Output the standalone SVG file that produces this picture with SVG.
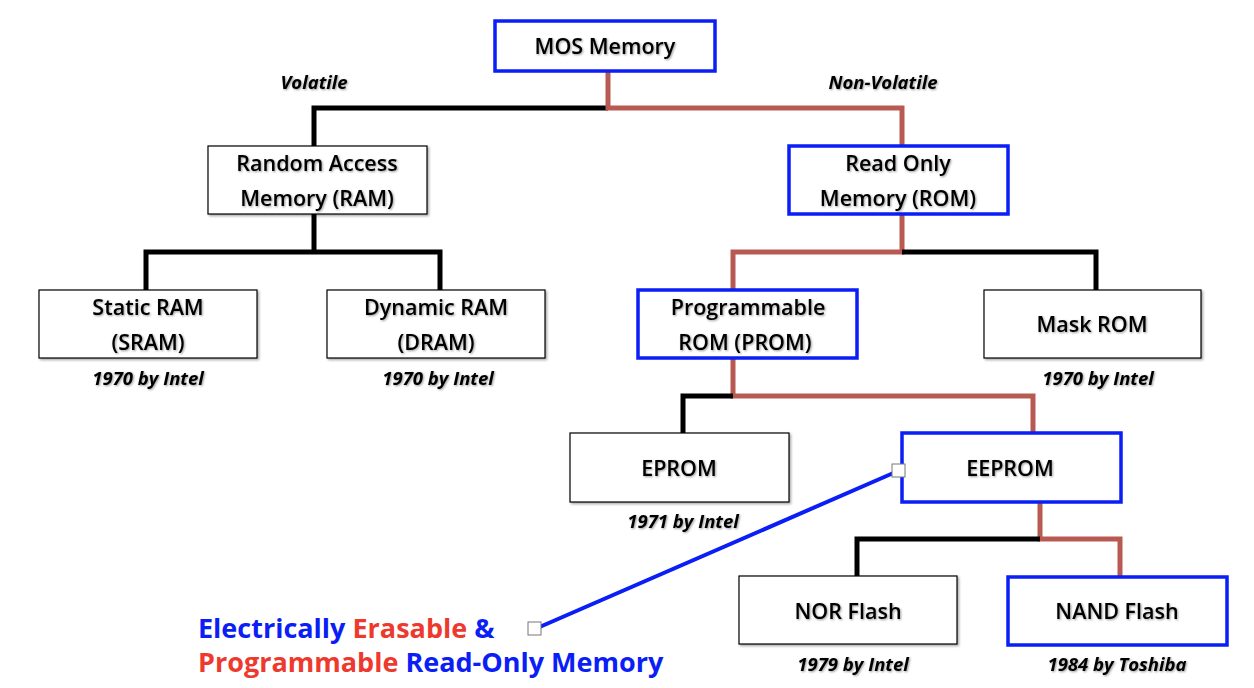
<svg xmlns="http://www.w3.org/2000/svg" width="1254" height="688" viewBox="0 0 1254 688">
<defs>
<filter id="ts" x="-10%" y="-20%" width="130%" height="160%">
<feDropShadow dx="1" dy="1" stdDeviation="0.8" flood-color="#000" flood-opacity="0.4"/>
</filter>
<filter id="bs" x="-5%" y="-5%" width="115%" height="120%">
<feDropShadow dx="1.5" dy="1.5" stdDeviation="1" flood-color="#000" flood-opacity="0.35"/>
</filter>
</defs>
<style>
.nb{fill:#fff;stroke:#000;stroke-width:1.2}
.bb{fill:#fff;stroke:#0A1EF5;stroke-width:3.5}
.t{font-family:"Open Sans","Noto Sans","Liberation Sans",sans-serif;font-weight:600;font-size:21.5px;fill:#000;text-anchor:middle}
.i{font-family:"Open Sans","Noto Sans","Liberation Sans",sans-serif;font-weight:700;font-style:italic;font-size:18.5px;fill:#000;text-anchor:middle}
.k{fill:none;stroke:#000;stroke-width:5}
.r{fill:none;stroke:#B85A52;stroke-width:5}
.c{font-family:"Open Sans","Noto Sans","Liberation Sans",sans-serif;font-weight:700;font-size:27px}
.blue{fill:#0A1EF5}
.red{fill:#EE3A2E}
.h{fill:#fff;stroke:#777;stroke-width:1}
</style>
<rect width="1254" height="688" fill="#fff"/>
<g id="connectors">
<polyline class="k" points="314,146 314,108 608,108"/>
<polyline class="r" points="608,72 608,108 902,108 902,146"/>
<polyline class="k" points="314,214 314,252"/>
<polyline class="k" points="146,290 146,252 440,252 440,290"/>
<polyline class="r" points="902,214 902,252 733,252 733,290"/>
<polyline class="k" points="902,252 1096,252 1096,290"/>
<polyline class="r" points="733,358 733,396 1033,396 1033,433"/>
<polyline class="k" points="733,396 683,396 683,433"/>
<polyline class="r" points="1040,502 1040,539 1120,539 1120,576"/>
<polyline class="k" points="1040,539 857,539 857,576"/>
<line x1="898" y1="471" x2="535" y2="629" stroke="#0A1EF5" stroke-width="4"/>
</g>
<g id="mos"><rect class="bb" x="495" y="21" width="220" height="50"/><text class="t" x="605" y="54" filter="url(#ts)">MOS Memory</text></g>
<text class="i" x="314" y="89" filter="url(#ts)">Volatile</text>
<text class="i" x="883" y="89" filter="url(#ts)">Non-Volatile</text>
<g id="ram"><rect class="nb" x="208" y="146" width="219" height="68" filter="url(#bs)"/><text class="t" x="317" y="171" filter="url(#ts)">Random Access</text><text class="t" x="317" y="206" filter="url(#ts)">Memory (RAM)</text></g>
<g id="rom"><rect class="bb" x="789" y="146" width="219" height="68"/><text class="t" x="898" y="171" filter="url(#ts)">Read Only</text><text class="t" x="898" y="206" filter="url(#ts)">Memory (ROM)</text></g>
<g id="sram"><rect class="nb" x="39" y="290" width="218" height="68" filter="url(#bs)"/><text class="t" x="148" y="315" filter="url(#ts)">Static RAM</text><text class="t" x="148" y="350" filter="url(#ts)">(SRAM)</text><text class="i" x="148" y="385" filter="url(#ts)">1970 by Intel</text></g>
<g id="dram"><rect class="nb" x="327" y="290" width="218" height="68" filter="url(#bs)"/><text class="t" x="436" y="315" filter="url(#ts)">Dynamic RAM</text><text class="t" x="436" y="350" filter="url(#ts)">(DRAM)</text><text class="i" x="438" y="385" filter="url(#ts)">1970 by Intel</text></g>
<g id="prom"><rect class="bb" x="638" y="290" width="219" height="68"/><text class="t" x="748" y="315" filter="url(#ts)">Programmable</text><text class="t" x="745" y="350" filter="url(#ts)">ROM (PROM)</text></g>
<g id="maskrom"><rect class="nb" x="984" y="290" width="217" height="68" filter="url(#bs)"/><text class="t" x="1092" y="332" filter="url(#ts)">Mask ROM</text><text class="i" x="1098" y="385" filter="url(#ts)">1970 by Intel</text></g>
<g id="eprom"><rect class="nb" x="570" y="433" width="219" height="69" filter="url(#bs)"/><text class="t" x="679" y="476" filter="url(#ts)">EPROM</text><text class="i" x="683" y="528" filter="url(#ts)">1971 by Intel</text></g>
<g id="eeprom"><rect class="bb" x="902" y="433" width="219" height="69"/><text class="t" x="1010" y="476" filter="url(#ts)">EEPROM</text></g>
<g id="nor"><rect class="nb" x="739" y="576" width="218" height="68" filter="url(#bs)"/><text class="t" x="848" y="619" filter="url(#ts)">NOR Flash</text><text class="i" x="853" y="671" filter="url(#ts)">1979 by Intel</text></g>
<g id="nand"><rect class="bb" x="1008" y="577" width="219" height="68"/><text class="t" x="1117" y="619" filter="url(#ts)">NAND Flash</text><text class="i" x="1117" y="671" filter="url(#ts)">1984 by Toshiba</text></g>
<g id="callout">
<rect class="h" x="892" y="464" width="13" height="13"/>
<rect class="h" x="528" y="622" width="13" height="13"/>
<text class="c" x="198" y="638"><tspan class="blue">Electrically </tspan><tspan class="red">Erasable </tspan><tspan class="blue">&amp;</tspan></text>
<text class="c" x="198" y="672"><tspan class="red">Programmable </tspan><tspan class="blue">Read-Only Memory</tspan></text>
</g>
</svg>
